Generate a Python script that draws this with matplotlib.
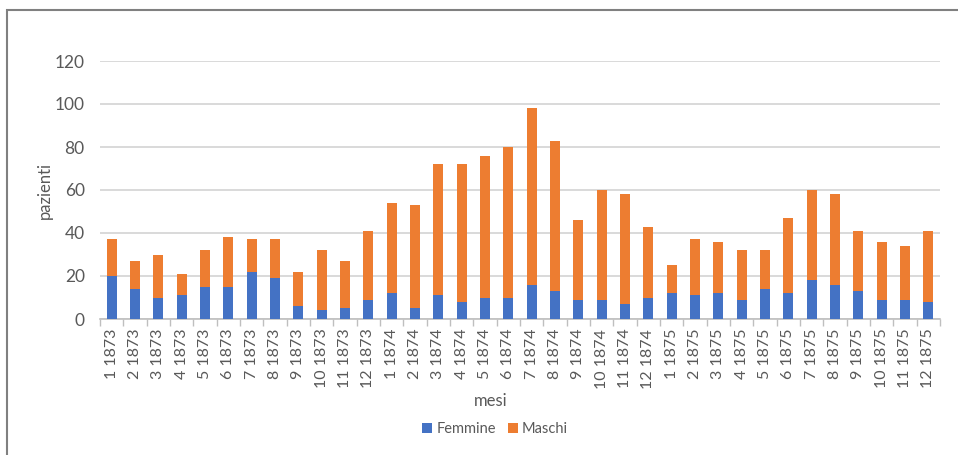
import matplotlib
matplotlib.use("Agg")
from matplotlib import pyplot as plt
from matplotlib.patches import Rectangle
import numpy as np

# dati: pazienti per mese
mesi = [f"{m} {a}" for a in (1873, 1874, 1875) for m in range(1, 13)]
femmine = [20, 14, 10, 11, 15, 15, 22, 19, 6, 4, 5, 9,
           12, 5, 11, 8, 10, 10, 16, 13, 9, 9, 7, 10,
           12, 11, 12, 9, 14, 12, 18, 16, 13, 9, 9, 8]
totale = [37, 27, 30, 21, 32, 38, 37, 37, 22, 32, 27, 41,
          54, 53, 72, 72, 76, 80, 98, 83, 46, 60, 58, 43,
          25, 37, 36, 32, 32, 47, 60, 58, 41, 36, 34, 41]
maschi = [t - f for t, f in zip(totale, femmine)]

grigio = "#595959"
plt.rcParams["font.family"] = ["Lato", "DejaVu Sans"]

fig = plt.figure(figsize=(9.58, 4.55), dpi=100)
ax = fig.add_axes([100/958, 1 - 319/455, 840/958, 258/455])

x = np.arange(len(mesi))
ax.bar(x, femmine, width=0.43, color="#4472C4", label="Femmine", zorder=3)
ax.bar(x, maschi, width=0.43, bottom=femmine, color="#ED7D31", label="Maschi", zorder=3)

ax.set_xlim(-0.5, len(mesi) - 0.5)
ax.set_ylim(0, 120)
ax.set_yticks(range(0, 121, 20))
ax.yaxis.grid(True, color="#D9D9D9", lw=1.4, zorder=0)
ax.tick_params(axis="y", length=0, pad=11, labelsize=12.5, labelcolor=grigio)

ax.set_xticks(x)
ax.set_xticklabels(mesi, rotation=90, fontsize=11.5, color=grigio)
ax.tick_params(axis="x", which="major", length=0, pad=7)
ax.set_xticks(np.arange(-0.5, len(mesi), 1), minor=True)
ax.tick_params(axis="x", which="minor", length=5, color="#BFBFBF", width=1)

for s in ("top", "right", "left"):
    ax.spines[s].set_visible(False)
ax.spines["bottom"].set_color("#BFBFBF")
ax.spines["bottom"].set_linewidth(1.2)

fig.text(45/958, 1 - 190/455, "pazienti", rotation=90, ha="center", va="center",
         fontsize=12, color=grigio)
fig.text(491/958, 1 - 401/455, "mesi", ha="center", va="center", fontsize=12, color=grigio)

fig.legend(loc="center", bbox_to_anchor=(495/958, 1 - 429/455), ncol=2, frameon=False,
           fontsize=10.5, labelcolor=grigio, handlelength=0.7, handleheight=0.7,
           handletextpad=0.3, columnspacing=0.8)

fig.patches.append(Rectangle((7/958, -0.2), 1.2, 1.2 - 10/455, transform=fig.transFigure,
                             fill=False, edgecolor="#808080", lw=1.5))

plt.savefig("out.png", dpi=100)
